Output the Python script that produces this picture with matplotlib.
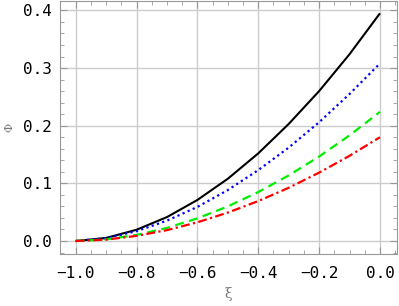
import matplotlib
matplotlib.use("Agg")
import matplotlib.pyplot as plt
from matplotlib.ticker import MultipleLocator

# values
xi = [-1.0, -0.9, -0.8, -0.7, -0.6, -0.5, -0.4, -0.3, -0.2, -0.1, 0.0]
phi_black = [0.0, 0.0053, 0.0195, 0.0415, 0.0712, 0.108, 0.152, 0.203, 0.260, 0.324, 0.395]
phi_blue = [0.0, 0.0049, 0.0170, 0.0353, 0.0591, 0.0884, 0.123, 0.162, 0.206, 0.255, 0.308]
phi_green = [0.0, 0.0028, 0.0105, 0.0227, 0.0393, 0.0600, 0.0849, 0.1138, 0.1465, 0.1833, 0.224]
phi_red = [0.0, 0.0024, 0.0089, 0.0189, 0.0324, 0.0493, 0.0693, 0.0923, 0.1186, 0.1478, 0.180]

xticks = [-1.0, -0.8, -0.6, -0.4, -0.2, 0.0]
yticks = [0.0, 0.1, 0.2, 0.3, 0.4]

fig = plt.figure(figsize=(3.99, 3.06), dpi=100)
ax = fig.add_axes([0.150, 0.170, 0.845, 0.828])

ax.plot(xi, phi_black, color="black", lw=1.5, solid_capstyle="butt")
ax.plot(xi, phi_blue, color="#0000ff", lw=1.6, linestyle=(0, (1, 1.5)))
ax.plot(xi, phi_green, color="#00ee00", lw=1.6, linestyle=(0, (4, 2.5)))
ax.plot(xi, phi_red, color="#ff0000", lw=1.6, linestyle=(0, (4, 1.5, 1, 1.5)))

ax.set_xlim(-1.052, 0.056)
ax.set_ylim(-0.0225, 0.417)
ax.set_xticks(xticks)
ax.set_yticks(yticks)
ax.set_xticklabels(["\u22121.0", "\u22120.8", "\u22120.6", "\u22120.4", "\u22120.2", "0.0"])
ax.set_yticklabels(["0.0", "0.1", "0.2", "0.3", "0.4"])
ax.xaxis.set_minor_locator(MultipleLocator(0.05))
ax.yaxis.set_minor_locator(MultipleLocator(0.02))

ax.grid(True, which="major", color="#cccccc", lw=1.0)
ax.set_axisbelow(True)
for s in ax.spines.values():
    s.set_color("#999999")
    s.set_linewidth(0.8)

ax.tick_params(which="both", direction="in", top=True, right=True, colors="#999999")
ax.tick_params(which="major", length=5, width=0.8, labelcolor="black")
ax.tick_params(which="minor", length=3, width=0.6)
ax.tick_params(axis="x", pad=9)
ax.tick_params(axis="y", pad=6)
for lab in ax.get_xticklabels() + ax.get_yticklabels():
    lab.set_fontfamily("DejaVu Sans Mono")
    lab.set_fontsize(11.5)

ax.set_xlabel("\u03be", family="DejaVu Serif", fontsize=10, color="#777777", labelpad=4)
ax.set_ylabel("\u03a6", family="DejaVu Serif", fontsize=8, color="#777777", labelpad=6)

fig.savefig("out.png", dpi=100)
